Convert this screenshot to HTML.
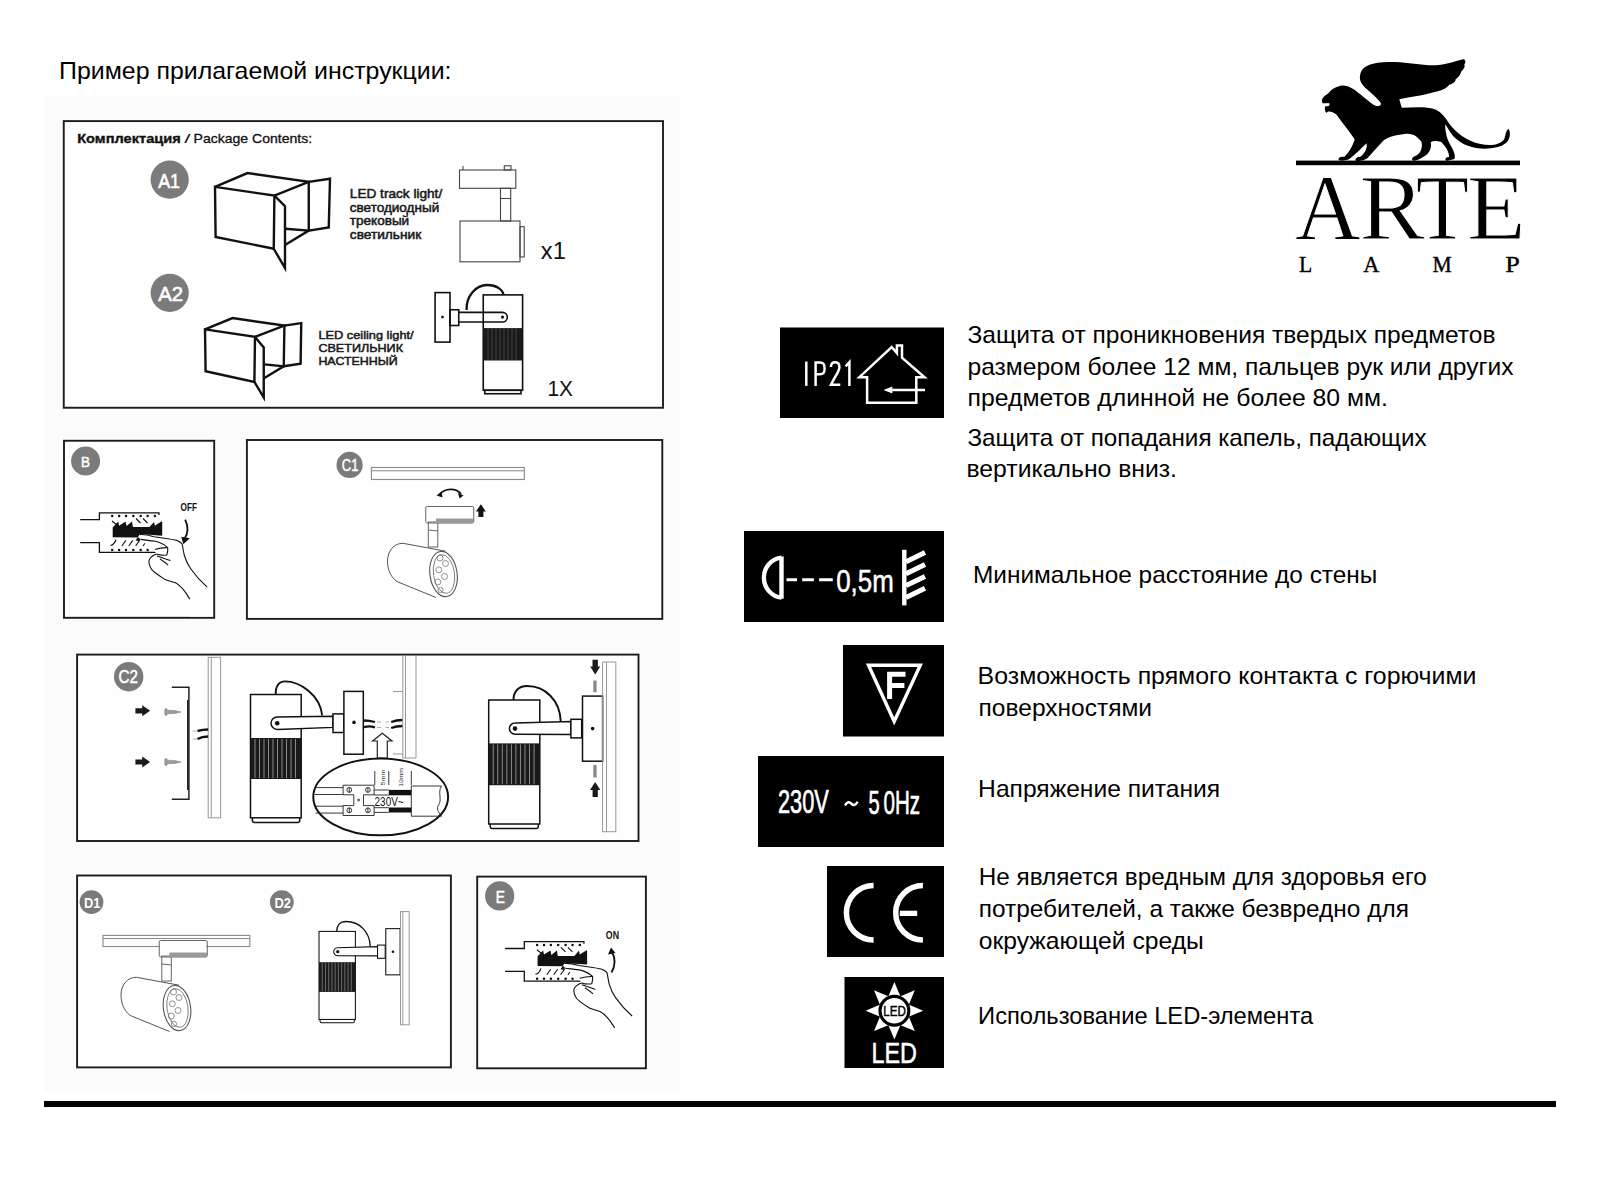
<!DOCTYPE html>
<html><head><meta charset="utf-8"><style>
html,body{margin:0;padding:0;background:#fff;width:1600px;height:1200px;overflow:hidden}
svg{display:block}

</style></head><body>
<svg width="1600" height="1200" viewBox="0 0 1600 1200">
<rect x="0" y="0" width="1600" height="1200" fill="#fff"/>
<rect x="44" y="96" width="636" height="996" fill="#fbfbfb"/>
<rect x="63.75" y="121.1" width="599.25" height="286.65" fill="#fefefe" stroke="#1c1c1c" stroke-width="1.9"/>
<rect x="64" y="440.75" width="150.20" height="177.05" fill="#fefefe" stroke="#1c1c1c" stroke-width="1.9"/>
<rect x="246.9" y="440" width="415.40" height="178.90" fill="#fefefe" stroke="#1c1c1c" stroke-width="1.9"/>
<rect x="77.1" y="654.6" width="561.40" height="186.40" fill="#fefefe" stroke="#1c1c1c" stroke-width="1.9"/>
<rect x="77.1" y="875.5" width="373.80" height="191.90" fill="#fefefe" stroke="#1c1c1c" stroke-width="1.9"/>
<rect x="477.2" y="876.6" width="168.70" height="191.70" fill="#fefefe" stroke="#1c1c1c" stroke-width="1.9"/>
<rect x="780" y="327.5" width="164.00" height="90.50" fill="#000"/>
<rect x="744" y="531" width="200.00" height="91.00" fill="#000"/>
<rect x="843" y="645" width="101.00" height="91.50" fill="#000"/>
<rect x="758" y="756" width="186.00" height="91.00" fill="#000"/>
<rect x="827" y="866" width="117.00" height="91.00" fill="#000"/>
<rect x="844.5" y="977" width="99.50" height="91.00" fill="#000"/>
<rect x="44" y="1101" width="1512" height="6" fill="#000"/>
<text x="59.00" y="78.75" font-size="23.2" font-weight="normal" fill="#000" style="font-family:&quot;Liberation Sans&quot;" textLength="392.50" lengthAdjust="spacingAndGlyphs" >Пример прилагаемой инструкции:</text>
<text x="967.50" y="343.10" font-size="23.8" font-weight="normal" fill="#000" style="font-family:&quot;Liberation Sans&quot;" textLength="528.00" lengthAdjust="spacingAndGlyphs" >Защита от проникновения твердых предметов</text>
<text x="967.50" y="375.00" font-size="23.8" font-weight="normal" fill="#000" style="font-family:&quot;Liberation Sans&quot;" textLength="546.00" lengthAdjust="spacingAndGlyphs" >размером более 12 мм, пальцев рук или других</text>
<text x="967.50" y="406.30" font-size="23.8" font-weight="normal" fill="#000" style="font-family:&quot;Liberation Sans&quot;" textLength="420.50" lengthAdjust="spacingAndGlyphs" >предметов длинной не более 80 мм.</text>
<text x="967.50" y="445.60" font-size="23.8" font-weight="normal" fill="#000" style="font-family:&quot;Liberation Sans&quot;" textLength="459.10" lengthAdjust="spacingAndGlyphs" >Защита от попадания капель, падающих</text>
<text x="966.50" y="477.20" font-size="23.8" font-weight="normal" fill="#000" style="font-family:&quot;Liberation Sans&quot;" textLength="210.50" lengthAdjust="spacingAndGlyphs" >вертикально вниз.</text>
<text x="973.00" y="582.60" font-size="23.8" font-weight="normal" fill="#000" style="font-family:&quot;Liberation Sans&quot;" textLength="404.30" lengthAdjust="spacingAndGlyphs" >Минимальное расстояние до стены</text>
<text x="977.60" y="683.75" font-size="23.8" font-weight="normal" fill="#000" style="font-family:&quot;Liberation Sans&quot;" textLength="498.80" lengthAdjust="spacingAndGlyphs" >Возможность прямого контакта с горючими</text>
<text x="978.60" y="715.60" font-size="23.8" font-weight="normal" fill="#000" style="font-family:&quot;Liberation Sans&quot;" textLength="173.40" lengthAdjust="spacingAndGlyphs" >поверхностями</text>
<text x="978.10" y="797.00" font-size="23.8" font-weight="normal" fill="#000" style="font-family:&quot;Liberation Sans&quot;" textLength="242.10" lengthAdjust="spacingAndGlyphs" >Напряжение питания</text>
<text x="978.80" y="885.00" font-size="23.8" font-weight="normal" fill="#000" style="font-family:&quot;Liberation Sans&quot;" textLength="448.00" lengthAdjust="spacingAndGlyphs" >Не является вредным для здоровья его</text>
<text x="978.80" y="917.10" font-size="23.8" font-weight="normal" fill="#000" style="font-family:&quot;Liberation Sans&quot;" textLength="430.10" lengthAdjust="spacingAndGlyphs" >потребителей, а также безвредно для</text>
<text x="978.80" y="949.20" font-size="23.8" font-weight="normal" fill="#000" style="font-family:&quot;Liberation Sans&quot;" textLength="225.00" lengthAdjust="spacingAndGlyphs" >окружающей среды</text>
<text x="978.10" y="1023.75" font-size="23.8" font-weight="normal" fill="#000" style="font-family:&quot;Liberation Sans&quot;" textLength="335.10" lengthAdjust="spacingAndGlyphs" >Использование LED-элемента</text>
<g id="logo">
<rect x="1296" y="160.6" width="224" height="4.6" fill="#000"/>
<g transform="translate(1310,50) scale(0.13125)">
<path fill="#000" d="M 90,385 
C 95,360 120,345 140,330
C 160,300 200,275 250,270
C 300,270 345,305 390,342
C 430,375 470,410 500,424
C 522,434 548,422 538,402
C 525,380 480,340 440,305
C 405,275 385,250 381,222
C 377,190 390,145 420,130
C 470,95 560,90 650,92
C 760,95 880,125 980,115
C 1060,105 1120,80 1170,70
C 1190,75 1185,100 1175,110
C 1185,125 1170,150 1150,165
C 1150,185 1130,210 1110,220
C 1110,245 1080,260 1060,265
C 1040,295 1000,310 950,320
C 850,350 750,360 680,375
C 690,400 690,420 700,440
C 800,435 900,430 960,455
C 1000,475 1030,510 1060,560
C 1110,625 1190,695 1300,716
C 1380,735 1450,720 1480,680
C 1490,650 1490,620 1510,600
C 1530,620 1525,660 1510,690
C 1490,720 1440,745 1380,748
C 1280,762 1170,735 1095,660
C 1070,630 1050,595 1030,565
C 1030,620 1040,680 1080,740
C 1100,780 1110,810 1100,830
L 1040,845 C 1025,835 1030,815 1060,815
C 1060,780 1040,740 1000,700
C 960,690 940,690 920,700
C 930,740 910,790 870,810
C 840,830 820,840 790,845
C 770,840 775,815 800,810
C 840,790 860,750 850,700
C 820,660 780,630 720,640
C 650,650 600,660 560,690
C 520,730 480,780 440,820
C 420,840 380,845 350,845
C 340,830 355,815 380,815
C 420,790 440,740 430,710
C 400,740 340,800 300,830
C 270,845 240,845 220,840
C 210,825 230,810 260,815
C 300,780 330,720 340,680
C 300,620 250,560 200,490
C 170,470 140,460 125,480
C 115,470 110,450 115,430
C 130,430 150,420 150,410
C 140,400 110,410 95,405
Z"/>
<ellipse cx="136" cy="418" rx="12" ry="10" fill="#fff"/>
</g>
<g style="font-family:'Liberation Serif'" fill="#000" font-size="93.2" stroke="#fff" stroke-width="1.0">
<text transform="translate(1295.1,238.75) scale(0.975,1)">A</text>
<text transform="translate(1359.5,238.75) scale(1.05,1)">R</text>
<text transform="translate(1415.8,238.75) scale(0.9375,1)">T</text>
<text transform="translate(1467.0,238.75) scale(1.03,1)">E</text>
</g>
<g style="font-family:'Liberation Serif'" fill="#000" font-size="24" stroke="#000" stroke-width="0.4">
<text transform="translate(1299.1,272) scale(0.9,1)">L</text>
<text transform="translate(1363.3,272) scale(0.93,1)">A</text>
<text transform="translate(1432.6,272) scale(0.9,1)">M</text>
<text transform="translate(1505.25,272) scale(1.09,1)">P</text>
</g>
</g>

<g id="icons">
<!-- IP21 -->
<g fill="none" stroke="#fff" stroke-width="2.5">
<path d="M806.3,361.5 V385.9"/>
<path d="M815.6,386 V362.6 H820 C823.6,362.6 824.6,364.3 824.6,368.4 C824.6,372.5 823.6,374.2 820,374.2 H815.6"/>
<path d="M830.9,367 C831,363.8 832.6,362.3 835.2,362.3 C838,362.3 839.4,364 839.4,367.2 C839.4,371.4 836,374.6 831,384.7 H840.3"/>
<path d="M845.6,366.4 L849.4,362.2 V386"/>
<path d="M859.4,377.2 H867.1 V402.8 H916.3 V377.2 H924.5 L902,357.7 V345.5 H896.9 V353.1 L891.7,347 Z" stroke-linejoin="miter"/>
<path d="M890,390 H925"/>
</g>
<path d="M883.5,390 L892.3,386.6 L892.3,393.4 Z" fill="#fff"/>
<!-- 0,5m -->
<g fill="none" stroke="#fff">
<path d="M781.5,557.6 A19.6,20.1 0 0 0 781.5,597.6" stroke-width="4.4"/>
<path d="M781.5,556.5 V598.7" stroke-width="4.4"/>
<path d="M786.5,579.8 H797 M802.2,579.8 H813.9 M819.1,579.8 H832.8" stroke-width="2.9"/>
<path d="M904.3,549.8 V605.4" stroke-width="4.4"/>
<path d="M906,561.8 L925,552.6 M906,573.7 L925,564.5 M906,585.6 L925,576.4 M906,597.5 L925,588.3" stroke-width="5"/>
</g>
<text x="836.2" y="591.6" font-size="32" fill="#fff" style="font-family:'Liberation Sans'" stroke="#fff" stroke-width="0.5" textLength="57.6" lengthAdjust="spacingAndGlyphs">0,5m</text>
<!-- F -->
<path d="M868.5,665.2 H920.3 L894.2,721.5 Z" fill="none" stroke="#fff" stroke-width="3.4" stroke-linejoin="miter"/>
<path d="M887.1,671.8 H905.5 V676.8 H892.1 V683.0 H904.4 V688.0 H892.1 V699.1 H887.1 Z" fill="#fff"/>
<!-- 230V 50Hz -->
<text x="778" y="813" font-size="33.5" fill="#fff" stroke="#fff" stroke-width="0.7" style="font-family:'Liberation Sans'" textLength="50.8" lengthAdjust="spacingAndGlyphs">230V</text>
<path d="M845,805.5 C847,801.5 849.5,801.5 851.3,803.6 C853.2,805.8 855.5,805.8 857.6,801.8" fill="none" stroke="#fff" stroke-width="2.4"/>
<text x="868.4" y="813.5" font-size="33.5" fill="#fff" stroke="#fff" stroke-width="0.7" style="font-family:'Liberation Sans'" textLength="11.2" lengthAdjust="spacingAndGlyphs">5</text>
<text x="883.5" y="813.5" font-size="33.5" fill="#fff" stroke="#fff" stroke-width="0.7" style="font-family:'Liberation Sans'" textLength="36.6" lengthAdjust="spacingAndGlyphs">0Hz</text>
<!-- CE -->
<g fill="none" stroke="#fff" stroke-width="5.5">
<path d="M873.6,885.55 A27.2,27.2 0 0 0 873.6,939.95"/>
<path d="M922.9,885.55 A27.2,27.2 0 0 0 922.9,939.95"/>
</g>
<rect x="899.8" y="910.7" width="17.4" height="5.3" fill="#fff"/>
<!-- LED -->
<g fill="#fff" transform="translate(894.4,1010.7)">
<path id="ray" d="M0,-28.8 L6.4,-13.5 L-6.4,-13.5 Z"/>
<use href="#ray" transform="rotate(45)"/>
<use href="#ray" transform="rotate(90)"/>
<use href="#ray" transform="rotate(135)"/>
<use href="#ray" transform="rotate(180)"/>
<use href="#ray" transform="rotate(225)"/>
<use href="#ray" transform="rotate(270)"/>
<use href="#ray" transform="rotate(315)"/>
<circle r="16" fill="#000"/>
<circle r="12.8" fill="#fff"/>
</g>
<text x="883.2" y="1015.8" font-size="13.8" fill="#000" stroke="#000" stroke-width="0.45" style="font-family:'Liberation Sans'" textLength="22.6" lengthAdjust="spacingAndGlyphs">LED</text>
<text x="871.5" y="1063.4" font-size="28.6" fill="#fff" stroke="#fff" stroke-width="0.5" style="font-family:'Liberation Sans'" textLength="45.5" lengthAdjust="spacingAndGlyphs">LED</text>
</g>

<g id="diagA">
<text x="77.2" y="143.4" font-size="13" font-weight="bold" fill="#111" stroke="#111" stroke-width="0.35" style="font-family:'Liberation Sans'" textLength="103.6" lengthAdjust="spacingAndGlyphs">Комплектация</text>
<text x="184.2" y="143.4" font-size="12" fill="#111" style="font-family:'Liberation Sans'" textLength="6.2" lengthAdjust="spacingAndGlyphs">/</text>
<text x="193.6" y="143.4" font-size="13" fill="#111" stroke="#111" stroke-width="0.3" style="font-family:'Liberation Sans'" textLength="118.5" lengthAdjust="spacingAndGlyphs">Package Contents:</text>
<circle cx="169.7" cy="179.7" r="19.1" fill="#7b7b7b"/>
<text x="158.2" y="187.5" font-size="20.5" fill="#fff" stroke="#fff" stroke-width="0.6" style="font-family:'Liberation Sans'" textLength="21.8" lengthAdjust="spacingAndGlyphs">A1</text>
<circle cx="169.7" cy="292.8" r="19.1" fill="#7b7b7b"/>
<text x="158.2" y="300.6" font-size="20.5" fill="#fff" stroke="#fff" stroke-width="0.6" style="font-family:'Liberation Sans'" textLength="24.8" lengthAdjust="spacingAndGlyphs">A2</text>
<g fill="none" stroke="#111" stroke-width="2.4" stroke-linejoin="miter">
<!-- box A1 -->
<path d="M215,186.9 L274.4,195.6 L273.75,248.75 L215.6,236.9 Z"/>
<path d="M215,186.9 L247.5,173.1 L308.75,181.9 L274.4,195.6"/>
<path d="M308.75,181.9 L330,178.75 L328.75,227.5 L308.75,230.6 Z"/>
<path d="M285,228.75 L308.75,230.6 L285,245"/>
<path d="M274.4,195.6 L285,206.25 L285,268.1 L273.75,248.75"/>
<!-- box A2 -->
<path d="M205,329.4 L255,336.9 L254.4,381.9 L205.6,371.25 Z"/>
<path d="M205,329.4 L232.5,318.1 L284.4,325.6 L255,336.9"/>
<path d="M284.4,325.6 L301.25,323.1 L300.6,363.75 L283.75,366.25 Z"/>
<path d="M264.4,364.4 L283.75,366.25 L264.4,378.1"/>
<path d="M255,336.9 L263.75,347.5 L263.75,397.5 L254.4,381.9"/>
</g>
<g fill="#1a1a1a" stroke="#1a1a1a" stroke-width="0.5" style="font-family:'Liberation Sans'" font-size="12.2">
<text x="349.8" y="197.75" textLength="92.4" lengthAdjust="spacingAndGlyphs">LED track light/</text>
<text x="349.8" y="211.6" textLength="89.4" lengthAdjust="spacingAndGlyphs">светодиодный</text>
<text x="349.8" y="225.45" textLength="59.4" lengthAdjust="spacingAndGlyphs">трековый</text>
<text x="349.8" y="239.3" textLength="71.4" lengthAdjust="spacingAndGlyphs">светильник</text>
</g>
<g fill="#1a1a1a" stroke="#1a1a1a" stroke-width="0.5" style="font-family:'Liberation Sans'" font-size="11.4">
<text x="318.4" y="338.6" textLength="95.2" lengthAdjust="spacingAndGlyphs">LED ceiling light/</text>
<text x="318.4" y="351.75" textLength="84.6" lengthAdjust="spacingAndGlyphs">СВЕТИЛЬНИК</text>
<text x="318.4" y="364.9" textLength="79.4" lengthAdjust="spacingAndGlyphs">НАСТЕННЫЙ</text>
</g>
<!-- track light -->
<g fill="none" stroke="#444" stroke-width="1.1">
<rect x="459.5" y="170" width="56.3" height="18.3"/>
<rect x="504.3" y="165.8" width="6.7" height="4.2"/>
<path d="M463,170 V166"/>
<rect x="500.5" y="188.3" width="10.2" height="32.7"/>
<path d="M500.5,198.5 H510.7"/>
<rect x="460" y="221" width="60" height="40.8"/>
<rect x="520" y="226.7" width="4.2" height="30.3"/>
</g>
<text x="540.8" y="258.5" font-size="23" fill="#111" style="font-family:'Liberation Sans'" textLength="25" lengthAdjust="spacingAndGlyphs">x1</text>
<!-- wall lamp A2 -->
<g fill="none" stroke="#111" stroke-width="1.6">
<rect x="435.1" y="292.6" width="14.9" height="49.5"/>
<path d="M466.6,310 C466,296 476,285 487,285 C497,285 503,290 503.4,295" stroke-width="2.3"/>
<rect x="450" y="309.75" width="8.75" height="15.75"/>
<path d="M458.75,312.4 H502.5 A4.8,4.8 0 0 1 502.5,322 H458.75"/>
<rect x="483.25" y="294.9" width="39.35" height="95.35"/>
<rect x="484.8" y="390.25" width="36.2" height="3.5"/>
</g>
<rect x="483.25" y="328.1" width="39.35" height="32.4" fill="#1a1a1a"/>
<g stroke="#666" stroke-width="0.5">
<path d="M488,328.1 V360.5 M492,328.1 V360.5 M496,328.1 V360.5 M500,328.1 V360.5 M504,328.1 V360.5 M508,328.1 V360.5 M512,328.1 V360.5 M516,328.1 V360.5"/>
</g>
<circle cx="442.5" cy="317.1" r="1.4" fill="#111"/>
<circle cx="502.5" cy="317.1" r="1.6" fill="#111"/>
<text x="547.5" y="395.5" font-size="22.5" fill="#111" style="font-family:'Liberation Sans'" textLength="25.5" lengthAdjust="spacingAndGlyphs">1X</text>
</g>

<g id="diagB">
<circle cx="85.6" cy="461.1" r="14.5" fill="#7b7b7b"/>
<text x="80.9" y="466.8" font-size="15.5" fill="#fff" stroke="#fff" stroke-width="0.5" style="font-family:'Liberation Sans'" textLength="9" lengthAdjust="spacingAndGlyphs">B</text>
<g id="breaker">
<g fill="none" stroke="#111" stroke-width="1.3">
<path d="M80.2,519.7 H99.4 V512.8 H159 V515"/>
<path d="M80.2,542.6 H99.4 V552.3 H159"/>
</g>
<path d="M112.7,527.5 L118.2,521.6 L119.1,525.7 L125.5,521.6 L126.5,526.1 L132,521.6 L132.9,527.1 L149.4,527.1 L154,522 L154.9,525.7 L161.3,521.6 L162.2,521.6 V535.8 L145.7,534.6 L139.4,534.9 L135.6,540.4 L139.4,541.3 L140.3,537.4 L112.7,537.2 Z" fill="#111"/>
<g fill="none" stroke="#111" stroke-width="1.1">
<path d="M112,521 L117,525 M136,518.5 L140.5,523 M143,518.5 L147.5,523"/>
<path d="M110.5,545.5 C113,545 115,543 116,539.5"/>
<path d="M121.9,546 L125.9,540.4 M128.8,546 L132.8,540.4 M135.6,546 L139.6,540.4 M143,546 L147,540.4 M149.4,546 L153.4,540.4"/>
</g>
<g fill="#fff" stroke="#111" stroke-width="1.1">
<path d="M139.6,534.6 C145,534.2 150,535.5 154,536.7 C162,538 172,539 176.9,540.4 C180,541.8 182.4,543 182.4,545 C183,549 184.2,555 184.2,555 C186,561 188,565 190.7,568.8 C195,575 200,581 207.2,587.2 L212.4,592 L212.4,616.6 L189.8,616.6 L189.8,599.1 C185,591 180,585 175.1,582.6 C170,581 166,580 164.1,578.9 C158,575 152,571 151.2,568.8 C149,565 148.5,561.5 149.4,559.6 C151,556.5 154,555 156.7,554.1 C155,552 154.5,550.5 154.9,549.5 C150,547 145,544 140.3,539.4 C138.5,537.5 138.5,535.5 139.6,534.6 Z" stroke="none"/>
<path d="M139.6,534.6 C145,534.2 150,535.5 154,536.7 C162,538 172,539 176.9,540.4 C180,541.8 182.4,543 182.4,545 C183,549 184.2,555 184.2,555 C186,561 188,565 190.7,568.8 C195,575 200,581 207.2,587.2" fill="none"/>
<path d="M189.8,599.1 C185,591 180,585 175.1,582.6 C170,581 166,580 164.1,578.9 C158,575 152,571 151.2,568.8 C149,565 148.5,561.5 149.4,559.6 C151,556.5 154,555 156.7,554.1" fill="none"/>
<path d="M140.3,539.4 C145,540 150,540.5 155.8,541.3 C160,542.5 165,545 167.7,547.7" fill="none"/>
<path d="M154.9,549.5 C158,548.5 163,547.5 167.7,547.7 C168,550 167.5,553 166.8,555 C163,555.5 159,555 156.7,554.1" fill="none"/>
<path d="M157,556 C161,557.5 166,559 170.5,560.6 M160,559 C163,561 166,563 168,565" fill="none"/>
</g>
<g fill="#111">
<circle cx="112.2" cy="516.1" r="1.25"/><circle cx="119.1" cy="516.1" r="1.25"/><circle cx="126" cy="516.1" r="1.25"/><circle cx="133.3" cy="516.1" r="1.25"/><circle cx="140.7" cy="516.1" r="1.25"/><circle cx="147.6" cy="516.1" r="1.25"/><circle cx="154.9" cy="516.1" r="1.25"/>
<circle cx="112.2" cy="550" r="1.25"/><circle cx="119.1" cy="550" r="1.25"/><circle cx="126" cy="550" r="1.25"/><circle cx="133.3" cy="550" r="1.25"/><circle cx="140.7" cy="550" r="1.25"/><circle cx="147.6" cy="550" r="1.25"/>
</g>
</g>
<path d="M185.2,519.7 C188.5,527 188.5,533 184.5,539" fill="none" stroke="#111" stroke-width="1.8"/>
<path d="M181.3,536.7 L189.8,538.3 L183.3,544.2 Z" fill="#111"/>
<text x="180.6" y="510.5" font-size="11.5" font-weight="bold" fill="#111" style="font-family:'Liberation Sans'" textLength="16.5" lengthAdjust="spacingAndGlyphs">OFF</text>
</g>

<g id="diagC1">
<circle cx="349.6" cy="464.9" r="13.1" fill="#7b7b7b"/>
<text x="341.8" y="470.6" font-size="17" fill="#fff" stroke="#fff" stroke-width="0.5" style="font-family:'Liberation Sans'" textLength="16.6" lengthAdjust="spacingAndGlyphs">C1</text>
<g fill="none" stroke="#888" stroke-width="1.1">
<rect x="371.4" y="467.5" width="152.9" height="12"/>
<path d="M371.4,470.8 H524.3"/>
</g>
<path d="M439.5,494.5 C445,488 456,487.5 461,494" fill="none" stroke="#111" stroke-width="1.9"/>
<path d="M436.5,495.5 L441.5,491.5 L442.5,497.5 Z M463.5,495.5 L458,493 L459.5,498.5 Z" fill="#111"/>
<g id="trackLamp">
<g fill="none" stroke="#666" stroke-width="1">
<rect x="425.75" y="506.5" width="48" height="16.5" rx="1.5"/>
<path d="M436,520.5 H473.5"/>
<rect x="428.3" y="522" width="9.5" height="25"/>
<path d="M428.3,530 L437.8,531"/>
</g>
<rect x="436" y="518.5" width="37.5" height="4.5" fill="#999"/>
<g fill="#fff" stroke="#555" stroke-width="1">
<path d="M445.5,551.2 L403,543.3 C394,543 387.5,551 387.5,561 C387.5,571 392,579 398,582 L436,597.5"/>
</g>
<ellipse cx="443.5" cy="574" rx="13.6" ry="22.8" transform="rotate(-8 443.5 574)" fill="#fff" stroke="#555" stroke-width="1.1"/>
<ellipse cx="444" cy="574" rx="10.5" ry="19.5" transform="rotate(-8 444 574)" fill="none" stroke="#777" stroke-width="0.9"/>
<g fill="none" stroke="#777" stroke-width="0.8">
<circle cx="440" cy="558" r="3"/><circle cx="445.5" cy="563.5" r="3"/><circle cx="438.8" cy="569.8" r="3"/>
<circle cx="444.5" cy="576.5" r="3"/><circle cx="437.8" cy="582" r="3"/><circle cx="440.5" cy="590" r="2.6"/>
</g>
</g>
<path id="c1up" d="M480.9,504.2 L485.8,511.5 L483.4,511.5 V517 H478.4 V511.5 L476,511.5 Z" fill="#111"/>
</g>

<g id="diagC2">
<defs>
<g id="ribs">
<rect x="0" y="0" width="50.7" height="41" fill="#1a1a1a"/>
<g stroke="#bbb" stroke-width="0.7">
<path d="M4.5,1 V40 M9,1 V40 M13.5,1 V40 M18,1 V40 M22.5,1 V40 M27,1 V40 M31.5,1 V40 M36,1 V40 M40.5,1 V40 M45,1 V40"/>
</g>
</g>
</defs>
<circle cx="128.7" cy="676.7" r="14.7" fill="#7b7b7b"/>
<text x="118.6" y="682.9" font-size="17.5" fill="#fff" stroke="#fff" stroke-width="0.5" style="font-family:'Liberation Sans'" textLength="19.4" lengthAdjust="spacingAndGlyphs">C2</text>
<!-- bracket -->
<path d="M171.8,687.2 H188.9 V799.2 H171.8" fill="none" stroke="#222" stroke-width="1.5"/>
<path d="M187.8,700 V790" stroke="#222" stroke-width="1.6"/>
<!-- arrows -->
<g fill="#1a1a1a">
<path d="M135.4,708.2 H142.2 V705.3 L150.1,710.8 L142.2,716.3 V713.4 H135.4 Z"/>
<path d="M135.4,759.4 H142.2 V756.5 L150.1,762 L142.2,767.5 V764.6 H135.4 Z"/>
</g>
<!-- screws -->
<g fill="#9a9a9a" stroke="#8a8a8a" stroke-width="0.6">
<path d="M164.8,709 Q165.5,708.3 166.6,708.6 L167.6,710.2 L175,710.6 L181.1,712 L175,713.4 L167.6,713.8 L166.6,715.4 Q165.5,715.7 164.8,715 Z"/>
<path d="M164.8,759 Q165.5,758.3 166.6,758.6 L167.6,760.2 L175,760.6 L181.1,762 L175,763.4 L167.6,763.8 L166.6,765.4 Q165.5,765.7 164.8,765 Z"/>
</g>
<!-- wall 1 -->
<g fill="none" stroke="#999" stroke-width="1">
<rect x="208.2" y="657.3" width="12.4" height="160.5"/>
<path d="M211.3,657.3 V817.8"/>
</g>
<g fill="none" stroke="#111" stroke-width="2.4">
<path d="M197.5,731 C201,730 204,729.5 208.2,729.5"/>
<path d="M197.5,739 C201,737 204,736.5 208.2,736.5"/>
</g>
<path d="M192.7,731 H196.5 M192.7,739 H196.5" stroke="#999" stroke-width="0.8"/>
<!-- lamp 1 -->
<g fill="#fff" stroke="#111" stroke-width="1.5">
<path d="M252.4,817.8 V820.4 Q252.4,822.4 254.4,822.4 H297.7 Q299.7,822.4 299.7,820.4 V817.8"/>
<rect x="250.5" y="694.5" width="50.7" height="123.3"/>
</g>
<use href="#ribs" transform="translate(250.5,738)"/>
<path d="M275.7,694 C275.5,686 279,681.4 285,681.4 C300,681.4 320,695 322.2,715.5" fill="none" stroke="#111" stroke-width="1.9"/>
<g fill="#fff" stroke="#111" stroke-width="1.5">
<path d="M277.2,717 L333,716.2 V727.4 L277.2,729.4 A6.2,6.2 0 0 1 277.2,717 Z"/>
<rect x="333" y="713.9" width="10.9" height="18.6"/>
<rect x="343.9" y="691.4" width="19.4" height="62.8"/>
</g>
<circle cx="277.2" cy="723.2" r="2.3" fill="#111"/>
<circle cx="354" cy="722.4" r="1.8" fill="#111"/>
<g fill="none" stroke="#111" stroke-width="2.3">
<path d="M364,720.5 C368,720.5 371,721 375,722"/>
<path d="M364,727.2 C368,726 371,726 375,727.5"/>
<path d="M391.2,722 C395,720.5 398,720 402.8,720"/>
<path d="M391.2,728 C395,726.5 398,726 402.8,726"/>
</g>
<path d="M377,722 H381 M385.5,722 H389 M377,727.5 H381 M385.5,727.5 H389" stroke="#999" stroke-width="0.8"/>
<!-- wall 2 -->
<g fill="none" stroke="#999" stroke-width="1">
<path d="M402.8,655 V758 H416 V655 M405.5,655 V758"/>
<path d="M393,691.5 H402.8 M393,754 H402.8"/>
</g>
<!-- up arrow outline -->
<path d="M382.3,733.3 L392,741 H387.3 V758 H377.3 V741 H372.6 Z" fill="#fff" stroke="#222" stroke-width="1.2"/>
<!-- ellipse detail -->
<ellipse cx="380.7" cy="796.9" rx="67.4" ry="38.4" fill="#fff" stroke="#111" stroke-width="2"/>
<g fill="none" stroke="#222" stroke-width="0.9">
<path d="M315.5,787.6 H343.1 M315,794.5 H343.1 M315,806.2 H343.1 M315.5,813.1 H343.1"/>
<path d="M343.1,785.2 H374.1 V794.8 H363.5 V805.6 H374.1 V815.5 H343.1 V805.6 H353.8 V794.8 H343.1 Z"/>
<circle cx="349.3" cy="789.9" r="2.4"/><circle cx="367.9" cy="789.9" r="2.4"/>
<circle cx="349.3" cy="810.3" r="2.4"/><circle cx="367.9" cy="810.3" r="2.4"/>
<path d="M349.3,787.3 V792.5 M367.9,787.3 V792.5 M349.3,807.7 V812.9 M367.9,807.7 V812.9"/>
<circle cx="358.6" cy="800" r="1"/>
<path d="M374.1,790 H388.8 M374.1,795 H388.8 M374.1,807.7 H388.8 M374.1,812.4 H388.8"/>
<path d="M374.8,771 V785 M388.8,771 V785 M411.3,771 V785"/>
<path d="M411.3,786 H441.6 C437,792 443,800 438,806 C436,810 440,814 441.6,816.2 H411.3 Z"/>
</g>
<rect x="388.8" y="789.9" width="22.5" height="5.4" fill="#111"/>
<rect x="388.8" y="807.5" width="22.5" height="5" fill="#111"/>
<text x="374.6" y="806.2" font-size="13" fill="#111" style="font-family:'Liberation Sans'" textLength="29" lengthAdjust="spacingAndGlyphs">230V~</text>
<text transform="translate(385,785.2) rotate(-90)" font-size="6" fill="#222" style="font-family:'Liberation Sans'" textLength="15.5" lengthAdjust="spacingAndGlyphs">5mm</text>
<text transform="translate(402.8,786.8) rotate(-90)" font-size="6" fill="#222" style="font-family:'Liberation Sans'" textLength="18.6" lengthAdjust="spacingAndGlyphs">10mm</text>
<!-- lamp 2 -->
<g id="wallLamp">
<g fill="#fff" stroke="#111" stroke-width="1.5">
<path d="M490.2,824 V826.6 Q490.2,828.6 492.2,828.6 H536.3 Q538.3,828.6 538.3,826.6 V824"/>
<rect x="488.7" y="700" width="51.1" height="124"/>
</g>
<use href="#ribs" transform="translate(488.7,743.4) scale(1.008,1.02)"/>
<path d="M513.5,700 C513.5,692 518,686 527,686 C545,686 560,700 560.8,721.7" fill="none" stroke="#111" stroke-width="1.9"/>
<g fill="#fff" stroke="#111" stroke-width="1.5">
<path d="M515,723 L570.9,721.5 V734.5 L515,734.2 A5.6,5.6 0 0 1 515,723 Z"/>
<rect x="570.9" y="719.3" width="10.8" height="18.6"/>
<rect x="582.5" y="696.1" width="20.1" height="65.1"/>
</g>
<circle cx="515" cy="728.6" r="2.3" fill="#111"/>
<circle cx="592.6" cy="728.6" r="1.8" fill="#111"/>
</g>
<g fill="none" stroke="#999" stroke-width="1">
<rect x="602.6" y="662" width="13.2" height="169.7"/>
<path d="M606.5,662 V831.7"/>
</g>
<g fill="#888">
<rect x="593.3" y="680.6" width="3.3" height="11.6"/>
<rect x="593.3" y="765" width="3.3" height="12.5"/>
</g>
<g fill="#1a1a1a">
<path d="M592.5,659.7 H597.9 V666.5 H600.3 L595.2,674.4 L590.2,666.5 H592.5 Z"/>
<path d="M592.6,796.9 H597.8 V790 H600.3 L595.2,782.1 L590,790 H592.6 Z"/>
</g>
</g>

<g id="diagD">
<circle cx="91.5" cy="902.1" r="11.9" fill="#7b7b7b"/>
<text x="84" y="907.8" font-size="14.8" font-weight="bold" fill="#fff" style="font-family:'Liberation Sans'" textLength="16.4" lengthAdjust="spacingAndGlyphs">D1</text>
<circle cx="281.8" cy="902.1" r="11.9" fill="#7b7b7b"/>
<text x="274.4" y="907.8" font-size="14.8" font-weight="bold" fill="#fff" style="font-family:'Liberation Sans'" textLength="16.6" lengthAdjust="spacingAndGlyphs">D2</text>
<g fill="none" stroke="#888" stroke-width="1.1">
<rect x="103" y="935.4" width="146.8" height="11.1"/>
<path d="M103,938.5 H249.8"/>
</g>
<rect x="159.5" y="940.9" width="46.75" height="17.4" rx="1.5" fill="#fff" stroke="none"/>
<use href="#trackLamp" transform="translate(-266.5,434)"/>
<!-- D2 -->
<use href="#wallLamp" transform="translate(-28.95,434.4) scale(0.712,0.71)"/>
<g fill="none" stroke="#999" stroke-width="1">
<rect x="400.5" y="911.6" width="8.7" height="113.2"/>
<path d="M402.8,911.6 V1024.8"/>
</g>
</g>

<g id="diagE">
<circle cx="499.7" cy="895.9" r="14.6" fill="#7b7b7b"/>
<text x="495.8" y="902.6" font-size="16" fill="#fff" stroke="#fff" stroke-width="0.5" style="font-family:'Liberation Sans'" textLength="9.2" lengthAdjust="spacingAndGlyphs">E</text>
<use href="#breaker" transform="translate(424.9,428.8)"/>
<path d="M611.5,972.5 C615.5,966 615.5,958 612,952" fill="none" stroke="#111" stroke-width="1.8"/>
<path d="M608,954.5 L611,947.5 L615.5,953 Z" fill="#111"/>
<text x="605.8" y="939.2" font-size="11.5" font-weight="bold" fill="#111" style="font-family:'Liberation Sans'" textLength="13.2" lengthAdjust="spacingAndGlyphs">ON</text>
</g>

</svg>
</body></html>
